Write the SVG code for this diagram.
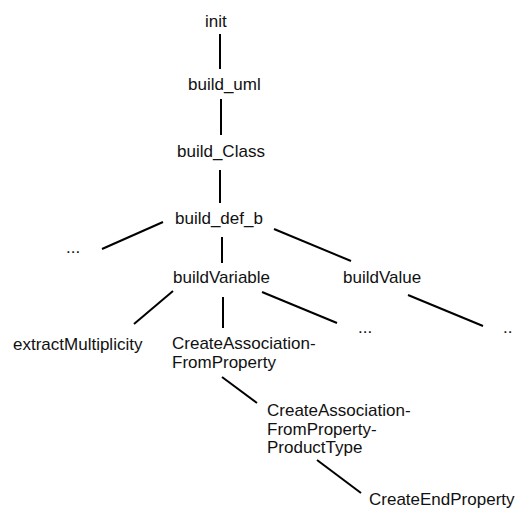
<svg xmlns="http://www.w3.org/2000/svg" width="515" height="510" viewBox="0 0 515 510">
  <style>
    .lbl { font-family: "Liberation Sans", Arial, sans-serif; font-size: 17px; fill: #111; }
    .edge { stroke: #000; stroke-width: 2; fill: none; }
  </style>
  <rect width="515" height="510" fill="#fff"/>

  <!-- call-tree connectors -->
  <g id="connectors">
    <line class="edge" x1="220" y1="34" x2="220" y2="69"/>
    <line class="edge" x1="221" y1="99" x2="221" y2="135"/>
    <line class="edge" x1="220" y1="170" x2="220" y2="203"/>
    <line class="edge" x1="163" y1="222" x2="102" y2="249"/>
    <line class="edge" x1="222" y1="237" x2="222" y2="263"/>
    <line class="edge" x1="274" y1="229" x2="351" y2="261"/>
    <line class="edge" x1="173" y1="291" x2="134" y2="324"/>
    <line class="edge" x1="223" y1="297" x2="223" y2="328"/>
    <line class="edge" x1="262" y1="292" x2="337" y2="323"/>
    <line class="edge" x1="408" y1="295" x2="483" y2="326"/>
    <line class="edge" x1="222" y1="377" x2="257" y2="403"/>
    <line class="edge" x1="317" y1="460" x2="361" y2="493"/>
  </g>

  <!-- call-tree nodes -->
  <g id="init"><text class="lbl" x="205" y="27">init</text></g>
  <g id="build_uml"><text class="lbl" x="188" y="90">build_uml</text></g>
  <g id="build_Class"><text class="lbl" x="177" y="157">build_Class</text></g>
  <g id="build_def_b"><text class="lbl" x="175" y="224">build_def_b</text></g>
  <g id="more_left"><text class="lbl" x="66" y="253">...</text></g>
  <g id="buildVariable"><text class="lbl" x="173" y="283">buildVariable</text></g>
  <g id="buildValue"><text class="lbl" x="343" y="283">buildValue</text></g>
  <g id="extractMultiplicity"><text class="lbl" x="13" y="350">extractMultiplicity</text></g>
  <g id="CreateAssociationFromProperty">
    <text class="lbl" x="172" y="349">CreateAssociation-</text>
    <text class="lbl" x="172" y="368">FromProperty</text>
  </g>
  <g id="more_mid"><text class="lbl" x="358" y="333">...</text></g>
  <g id="more_right"><text class="lbl" x="503" y="333">..</text></g>
  <g id="CreateAssociationFromPropertyProductType">
    <text class="lbl" x="267" y="416">CreateAssociation-</text>
    <text class="lbl" x="267" y="435">FromProperty-</text>
    <text class="lbl" x="267" y="453">ProductType</text>
  </g>
  <g id="CreateEndProperty"><text class="lbl" x="369" y="505">CreateEndProperty</text></g>
</svg>
